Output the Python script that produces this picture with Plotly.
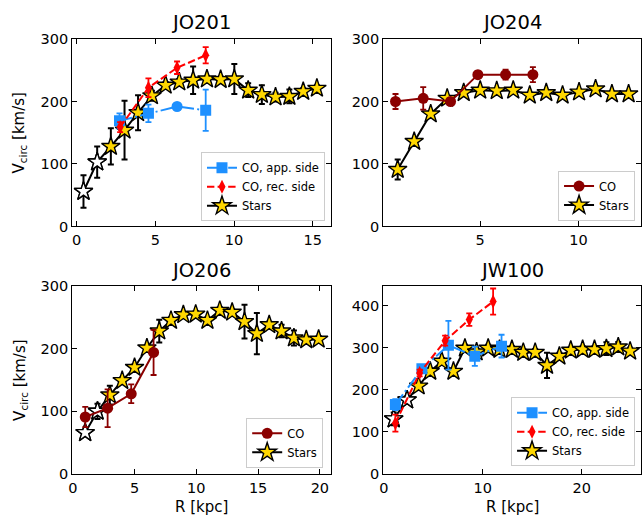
import plotly.graph_objects as go

# ---------------- data ----------------
# JO201
jo201_star_r = [0.43, 1.30, 2.17, 3.04, 3.90, 4.78, 5.65, 6.52, 7.40, 8.28, 9.15, 10.02, 10.90, 11.77, 12.64, 13.52, 14.40, 15.27]
jo201_star_v = [56, 103, 128, 154, 182, 209, 226, 231, 234, 236, 235, 236, 218, 211, 207, 208, 216, 221]
jo201_star_e = [26, 25, 29, 47, 28, 8, 5, 5, 22, 5, 5, 24, 11, 15, 7, 11, 5, 5]
jo201_app_r = [2.72, 4.56, 6.38, 8.20]
jo201_app_v = [169, 181, 192, 186]
jo201_app_e = [12, 14, 5, 33]
jo201_rec_r = [2.76, 4.56, 6.38, 8.20]
jo201_rec_v = [159, 222, 254, 274]
jo201_rec_e = [8, 15, 10, 13]

# JO204
jo204_star_r = [0.80, 1.64, 2.48, 3.32, 4.16, 5.00, 5.84, 6.68, 7.52, 8.36, 9.19, 10.03, 10.87, 11.70, 12.55]
jo204_star_v = [91, 136, 180, 205, 214, 218, 217, 218, 210, 214, 210, 215, 220, 212, 212]
jo204_star_e = [16, 4, 4, 4, 4, 4, 4, 4, 4, 4, 4, 4, 4, 4, 4]
jo204_co_r = [0.69, 2.10, 3.49, 4.88, 6.29, 7.68]
jo204_co_v = [200, 205, 200, 243, 243, 243]
jo204_co_e = [12, 18, 5, 5, 8, 12]

# JO206
jo206_star_r = [1.0, 2.0, 3.0, 4.0, 5.0, 6.0, 7.0, 7.95, 8.95, 9.95, 10.9, 11.9, 12.9, 13.9, 14.9, 15.9, 16.9, 17.9, 18.9, 19.9]
jo206_star_v = [66, 100, 126, 149, 170, 201, 228, 245, 254, 255, 245, 261, 258, 243, 224, 238, 228, 217, 214, 215]
jo206_star_e = [5, 12, 15, 5, 5, 5, 18, 5, 5, 5, 5, 5, 5, 27, 33, 5, 10, 12, 5, 5]
jo206_co_r = [1.01, 2.82, 4.73, 6.54]
jo206_co_v = [91, 105, 128, 194]
jo206_co_e = [16, 30, 15, 36]

# JW100
jw100_star_r = [1.0, 2.35, 3.52, 4.69, 5.86, 7.04, 8.20, 9.38, 10.55, 11.70, 12.95, 14.10, 15.30, 16.50, 17.75, 18.90, 20.10, 21.30, 22.50, 23.70, 24.90]
jw100_star_v = [131, 176, 209, 244, 268, 244, 299, 290, 299, 296, 296, 289, 289, 258, 280, 294, 296, 296, 298, 302, 292]
jw100_star_e = [15, 8, 8, 8, 8, 8, 8, 8, 8, 8, 8, 8, 8, 30, 8, 8, 8, 8, 15, 12, 8]
jw100_app_r = [1.17, 3.85, 6.53, 9.20, 11.90]
jw100_app_v = [165, 250, 306, 280, 304]
jw100_app_e = [13, 8, 58, 23, 27]
jw100_rec_r = [1.17, 3.62, 6.20, 8.64, 11.05]
jw100_rec_v = [121, 240, 317, 367, 410]
jw100_rec_e = [20, 8, 12, 15, 31]

open_stars = {"JO201": 2, "JO204": 0, "JO206": 2, "JW100": 2}

# ---------------- style ----------------
FONT = "DejaVu Sans"
GOLD = "#FFD700"
BLUE = "#1E90FF"
RED = "#FF0000"
DRED = "#8B0000"
W, H = 642, 525

fig = go.Figure()


def px_x(v):
    return v / W


def px_y(v):
    return 1 - v / H


panels = {
    "JO201": dict(ax="", leg="legend", dom_x=[68.7, 329.3], dom_y=[32.0, 225.3], xr=[-0.29, 16.15], yr=[0, 300],
                  xt=[0, 5, 10, 15], yt=[0, 100, 200, 300], lg=(323.5, 220.0)),
    "JO204": dict(ax="2", leg="legend2", dom_x=[382.3, 642.0], dom_y=[32.0, 225.3], xr=[0.07, 13.18], yr=[0, 300],
                  xt=[0, 5, 10], yt=[0, 100, 200, 300], lg=(636.0, 219.3)),
    "JO206": dict(ax="3", leg="legend3", dom_x=[68.7, 329.3], dom_y=[286.7, 480.7], xr=[-0.05, 20.88], yr=[0, 300],
                  xt=[0, 5, 10, 15, 20], yt=[0, 100, 200, 300], lg=(321.7, 474.3)),
    "JW100": dict(ax="4", leg="legend4", dom_x=[382.3, 642.0], dom_y=[286.7, 480.7], xr=[-0.05, 26.0], yr=[0, 447],
                  xt=[0, 10, 20], yt=[0, 100, 200, 300, 400], lg=(636.0, 472.7)),
}


def add_stars(name, r, v, e):
    p = panels[name]
    xa, ya = "x" + p["ax"], "y" + p["ax"]
    fig.add_trace(go.Scatter(
        x=r, y=v, mode="lines+markers", name="Stars", xaxis=xa, yaxis=ya, legend=p["leg"], legendrank=3,
        line=dict(color="black", width=2),
        marker=dict(symbol="star", size=14, color=GOLD, line=dict(color="black", width=1.4)),
        error_y=dict(type="data", array=e, color="black", thickness=2, width=3),
    ))
    n = open_stars[name]
    if n:
        fig.add_trace(go.Scatter(
            x=r[:n], y=v[:n], mode="markers", showlegend=False, xaxis=xa, yaxis=ya,
            marker=dict(symbol="star", size=14, color="white", line=dict(color="black", width=1.4)),
        ))


def add_co(name, r, v, e, label, color, symbol, size, dash, rank):
    p = panels[name]
    fig.add_trace(go.Scatter(
        x=r, y=v, mode="lines+markers", name=label, xaxis="x" + p["ax"], yaxis="y" + p["ax"],
        legend=p["leg"], legendrank=rank,
        line=dict(color=color, width=2, dash=dash),
        marker=dict(symbol=symbol, size=size, color=color, line=dict(width=0)),
        error_y=dict(type="data", array=e, color=color, thickness=1.8, width=3),
    ))


DASH = "7.4px,3.2px"
DASHDOT = "12.8px,3.2px,2px,3.2px"

add_stars("JO201", jo201_star_r, jo201_star_v, jo201_star_e)
add_co("JO201", jo201_app_r, jo201_app_v, jo201_app_e, "CO, app. side", BLUE,
       ["square", "square", "circle", "square"], 11, DASHDOT, 1)
add_co("JO201", jo201_rec_r, jo201_rec_v, jo201_rec_e, "CO, rec. side", RED, "diamond-tall", 10, DASH, 2)

add_stars("JO204", jo204_star_r, jo204_star_v, jo204_star_e)
add_co("JO204", jo204_co_r, jo204_co_v, jo204_co_e, "CO", DRED, "circle", 11, "solid", 1)

add_stars("JO206", jo206_star_r, jo206_star_v, jo206_star_e)
add_co("JO206", jo206_co_r, jo206_co_v, jo206_co_e, "CO", DRED, "circle", 11, "solid", 1)

add_stars("JW100", jw100_star_r, jw100_star_v, jw100_star_e)
add_co("JW100", jw100_app_r, jw100_app_v, jw100_app_e, "CO, app. side", BLUE, "square", 11, DASHDOT, 1)
add_co("JW100", jw100_rec_r, jw100_rec_v, jw100_rec_e, "CO, rec. side", RED, "diamond-tall", 10, DASH, 2)

layout = dict(
    width=W, height=H, autosize=False,
    margin=dict(l=0, r=0, t=0, b=0),
    paper_bgcolor="white", plot_bgcolor="white",
    font=dict(family=FONT, color="black", size=14.5),
    annotations=[],
)

for name, p in panels.items():
    axd = dict(showline=True, linecolor="black", linewidth=1.2, mirror="ticks", ticks="inside",
               ticklen=5, tickwidth=1.2, tickcolor="black", showgrid=False, zeroline=False,
               tickfont=dict(family=FONT, size=14.5, color="black"))
    layout["xaxis" + p["ax"]] = dict(axd, domain=[px_x(p["dom_x"][0]), px_x(p["dom_x"][1])], range=p["xr"],
                                     tickvals=p["xt"], anchor="y" + p["ax"])
    layout["yaxis" + p["ax"]] = dict(axd, domain=[px_y(p["dom_y"][1]), px_y(p["dom_y"][0])], range=p["yr"],
                                     tickvals=p["yt"], anchor="x" + p["ax"])
    layout[p["leg"]] = dict(x=px_x(p["lg"][0]), y=px_y(p["lg"][1]), xanchor="right", yanchor="bottom",
                            bgcolor="rgba(255,255,255,0.8)", bordercolor="#cccccc", borderwidth=1,
                            font=dict(family=FONT, size=11.5, color="black"))
    cx = (p["dom_x"][0] + p["dom_x"][1]) / 2
    ty = 14.5 if p["dom_y"][0] < 100 else 270.5
    layout["annotations"].append(dict(text=name, x=px_x(cx), y=px_y(ty), xref="paper", yref="paper",
                                      showarrow=False, xanchor="center", yanchor="middle",
                                      font=dict(family=FONT, size=19.5, color="black")))

# axis titles
for cy in [128.6, 383.7]:
    layout["annotations"].append(dict(text="V<sub>circ</sub> [km/s]", x=px_x(16), y=px_y(cy),
                                      xref="paper", yref="paper", showarrow=False, textangle=-90,
                                      xanchor="center", yanchor="middle",
                                      font=dict(family=FONT, size=15, color="black")))
for cx in [199.0, 512.0]:
    layout["annotations"].append(dict(text="R [kpc]", x=px_x(cx), y=px_y(515), xref="paper", yref="paper",
                                      showarrow=False, xanchor="center", yanchor="middle",
                                      font=dict(family=FONT, size=15, color="black")))

fig.update_layout(**layout)
fig.write_html("out.html")
